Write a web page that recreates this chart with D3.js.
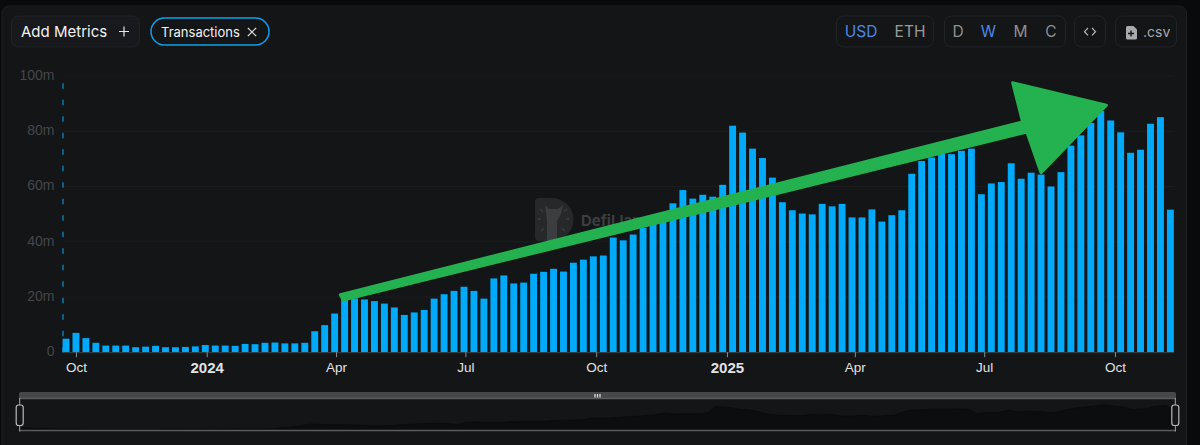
<!DOCTYPE html>
<html>
<head>
<meta charset="utf-8">
<script src="https://cdn.jsdelivr.net/npm/d3@7/dist/d3.min.js"></script>
<style>
  html, body { margin: 0; padding: 0; background: #090a0c; overflow: hidden; }
  svg { display: block; font-family: Inter, "Noto Sans", sans-serif; }
  .x-axis text { fill: #e2e3e4; font-size: 13.5px; }
  .x-axis text.year { font-weight: 700; font-size: 15px; }
  .y-axis text { fill: #45474a; font-size: 14px; }
</style>
</head>
<body>
<div id="chart"></div>
<script>
// weekly transactions in millions (first week 2023-09-24)
const firstWeek = "2023-09-24";
const transactions = [
  4.9, 7.0, 5.1, 3.4, 2.4, 2.4, 2.4, 1.8, 2.0, 2.3, 1.8, 1.8, 1.9, 2.1, 2.6, 2.4,
  2.4, 2.3, 3.0, 2.9, 3.4, 3.5, 3.2, 3.2, 3.4, 7.6, 9.8, 14.0, 20.5, 19.5, 19.1, 18.5,
  17.6, 16.2, 13.5, 14.4, 15.3, 19.4, 21.0, 22.2, 23.7, 22.2, 19.4, 26.7, 27.8, 24.9,
  25.2, 28.4, 29.1, 30.2, 29.2, 32.4, 33.5, 34.7, 35.0, 41.5, 40.5, 42.6, 45.0, 47.0,
  49.5, 53.9, 58.7, 55.6, 57.0, 56.3, 60.6, 82.0, 79.5, 73.7, 70.3, 63.2, 54.3, 51.4,
  50.2, 49.9, 53.7, 52.8, 53.7, 48.8, 48.8, 51.7, 47.3, 49.6, 51.4, 64.6, 69.2, 70.5,
  72.2, 71.7, 72.9, 73.7, 57.2, 61.1, 61.6, 68.4, 62.8, 65.0, 64.3, 60.0, 65.2, 74.8,
  78.5, 83.0, 87.3, 83.9, 79.6, 72.2, 73.3, 82.7, 85.1, 51.6
];

const xTickDates = ["2023-10-01", "2024-01-01", "2024-04-01", "2024-07-01", "2024-10-01", "2025-01-01", "2025-04-01", "2025-07-01", "2025-10-01"];
const xTickLabels = ["Oct", "2024", "Apr", "Jul", "Oct", "2025", "Apr", "Jul", "Oct"];
const yTicks = [0, 20, 40, 60, 80, 100];

// hand drawn arrow on top of the chart, in chart units
const arrowDates = ["2024-04-04", "2025-07-28", "2025-07-21", "2025-09-25", "2025-08-10", "2025-07-31", "2024-04-06"];
const arrowValues = [20.8, 83.4, 97.6, 89.4, 65.0, 79.7, 18.9];

const width = 1200, height = 445;
const weeks = transactions.map((d, i) => d3.utcDay.offset(new Date(firstWeek), i * 7));

const x = d3.scaleUtc().domain(d3.extent(weeks)).range([66, 1170.4]);
const y = d3.scaleLinear().domain([0, 100]).range([352.2, 76]);
const barW = 6.9;

const svg = d3.select("#chart").append("svg")
  .attr("width", width)
  .attr("height", height)
  .attr("viewBox", `0 0 ${width} ${height}`);

// card
svg.append("rect")
  .attr("x", 2).attr("y", 6).attr("width", 1184.5).attr("height", 460).attr("rx", 7)
  .attr("fill", "#131517").attr("stroke", "#1c1e21");

// --- toolbar ---
const bar = svg.append("g");

function box(x0, x1, fill) {
  bar.append("rect")
    .attr("x", x0 + 0.5).attr("y", 16).attr("width", x1 - x0 - 1).attr("height", 31).attr("rx", 7)
    .attr("fill", fill).attr("stroke", "#212326");
}

function label(txt, lx, color, size, anchor) {
  bar.append("text")
    .attr("x", lx).attr("y", 37)
    .attr("fill", color)
    .attr("font-size", size)
    .attr("text-anchor", anchor || "middle")
    .text(txt);
}

box(11, 140, "#18191c");
label("Add Metrics", 21, "#f2f2f2", 15, "start");
bar.append("path")
  .attr("d", "M124 26.5v10M119 31.5h10")
  .attr("stroke", "#e6e6e6").attr("stroke-width", 1.2);

bar.append("rect")
  .attr("x", 151).attr("y", 18).attr("width", 118).attr("height", 27).attr("rx", 13.5)
  .attr("fill", "none").attr("stroke", "#0f9fe6").attr("stroke-width", 1.5);
label("Transactions", 161, "#f2f2f2", 13, "start");
bar.append("path")
  .attr("d", "M247.8 27.8l8.4 8.4M256.2 27.8l-8.4 8.4")
  .attr("stroke", "#e6e6e6").attr("stroke-width", 1.2);

box(836, 934, "none");
label("USD", 861, "#4f87ea", 15.5);
label("ETH", 910, "#9a9b9d", 15.5);

box(944, 1066, "none");
label("D", 958, "#8f9092", 15.5);
label("W", 988.5, "#4f87ea", 15.5);
label("M", 1020.5, "#8f9092", 15.5);
label("C", 1051, "#8f9092", 15.5);

box(1074, 1106, "none");
bar.append("path")
  .attr("d", "M1088 28l-3.5 3.7l3.5 3.7M1092 28l3.5 3.7l-3.5 3.7")
  .attr("fill", "none").attr("stroke", "#b5b6b8").attr("stroke-width", 1.2);

box(1115, 1177, "none");
bar.append("path")
  .attr("d", "M1127.5 26h6l3.5 3.5v8.5a1.5 1.5 0 0 1 -1.5 1.5h-8a1.5 1.5 0 0 1 -1.5 -1.5v-10.5a1.5 1.5 0 0 1 1.5 -1.5z")
  .attr("fill", "#a9aaac");
bar.append("path")
  .attr("d", "M1131 30.5v6M1128 33.5h6")
  .attr("stroke", "#131517").attr("stroke-width", 1.4);
label(".csv", 1143, "#a9aaac", 14, "start");

// --- watermark, sits behind the bars ---
const mark = svg.append("g");
mark.append("path")
  .attr("d", "M539 198H552A21.5 21.5 0 0 1 552 241H539A4 4 0 0 1 535 237V202A4 4 0 0 1 539 198Z")
  .attr("fill", "#26282a");
mark.append("path")
  .attr("d", "M545 205L549 209H558L563 205L561 214L557 221V241H547V221L546 213Z")
  .attr("fill", "#3b3d3f");
mark.append("path")
  .attr("d", "M540 209l3 2.5M567 209l-3 2.5M538 219h3M566 219h3M541 231l3 -2.5M565 231l-3 -2.5")
  .attr("stroke", "#3b3d3f").attr("stroke-width", 1.4);
mark.append("text")
  .attr("x", 581).attr("y", 226)
  .attr("fill", "#3c3e40")
  .attr("font-size", 15)
  .attr("font-weight", 700)
  .text("DefiLlama");

// --- grid and axes ---
svg.append("g")
  .selectAll("line")
  .data(yTicks.filter((d) => d > 0))
  .join("line")
  .attr("x1", 63).attr("x2", 1174)
  .attr("y1", (d) => y(d)).attr("y2", (d) => y(d))
  .attr("stroke", "#1b1d20");

const yAxis = svg.append("g")
  .attr("class", "y-axis")
  .attr("transform", "translate(62.5,0)")
  .call(d3.axisLeft(y).tickValues(yTicks).tickSize(0).tickPadding(8)
    .tickFormat((d) => (d === 0 ? "0" : d + "m")));
yAxis.select(".domain")
  .attr("stroke", "#0d78b2")
  .attr("stroke-width", 1.5)
  .attr("stroke-dasharray", "5.5 11");
yAxis.selectAll(".tick text").attr("y", -1);

// bars
svg.append("g")
  .selectAll("rect")
  .data(transactions)
  .join("rect")
  .attr("x", (d, i) => x(weeks[i]) - barW / 2)
  .attr("y", (d) => y(d))
  .attr("width", barW)
  .attr("height", (d) => y(0) - y(d))
  .attr("fill", "#00aafa");

const xAxis = svg.append("g")
  .attr("class", "x-axis")
  .attr("transform", `translate(0,${y(0)})`)
  .call(d3.axisBottom(x)
    .tickValues(xTickDates.map((d) => new Date(d)))
    .tickSize(5)
    .tickPadding(5)
    .tickFormat((d, i) => xTickLabels[i]));
xAxis.select(".domain")
  .attr("d", "M62.5 0.5H1174")
  .attr("stroke", "#3b4146")
  .attr("stroke-width", 1);
xAxis.selectAll(".tick line").attr("stroke", "#8b8e91");
xAxis.selectAll(".tick text").classed("year", (d, i) => /^\d+$/.test(xTickLabels[i]));

// --- range slider at the bottom ---
const miniX = d3.scaleUtc().domain(d3.extent(weeks)).range([19.5, 1175.5]);
const miniY = d3.scaleLinear().domain([0, 87.3]).range([430, 405]);

const slider = svg.append("g");
slider.append("path")
  .datum(transactions)
  .attr("d", d3.area()
    .x((d, i) => miniX(weeks[i]))
    .y0(miniY(0))
    .y1((d) => miniY(d))
    .curve(d3.curveMonotoneX))
  .attr("fill", "#0c0d0f")
  .attr("stroke", "#0a0b0c");
slider.append("path")
  .attr("d", "M19 398V394a2 2 0 0 1 2 -2H1174a2 2 0 0 1 2 2V398Z")
  .attr("fill", "#47484a");
slider.append("path")
  .attr("d", "M19 398.5H1176M19 430.5H1176")
  .attr("stroke", "#5a5b5d").attr("stroke-width", 1.3);
slider.append("path")
  .attr("d", "M595 394v3.5M597.5 394v3.5M600 394v3.5")
  .attr("stroke", "#d8d8d8").attr("stroke-width", 1.3);

[19.7, 1175.3].forEach((hx) => {
  slider.append("line")
    .attr("x1", hx).attr("x2", hx).attr("y1", 398).attr("y2", 431.5)
    .attr("stroke", "#a5a6a8");
  slider.append("rect")
    .attr("x", hx - 3.5).attr("y", 405).attr("width", 7).attr("height", 20.5).attr("rx", 2.5)
    .attr("fill", "#131517").attr("stroke", "#b8b9bb").attr("stroke-width", 1.2);
});

// --- green arrow ---
svg.append("path")
  .attr("d", d3.line()(arrowDates.map((d, i) => [x(new Date(d)), y(arrowValues[i])])) + "Z")
  .attr("fill", "#24b250")
  .attr("stroke", "#24b250")
  .attr("stroke-width", 3)
  .attr("stroke-linejoin", "round");
</script>
</body>
</html>
